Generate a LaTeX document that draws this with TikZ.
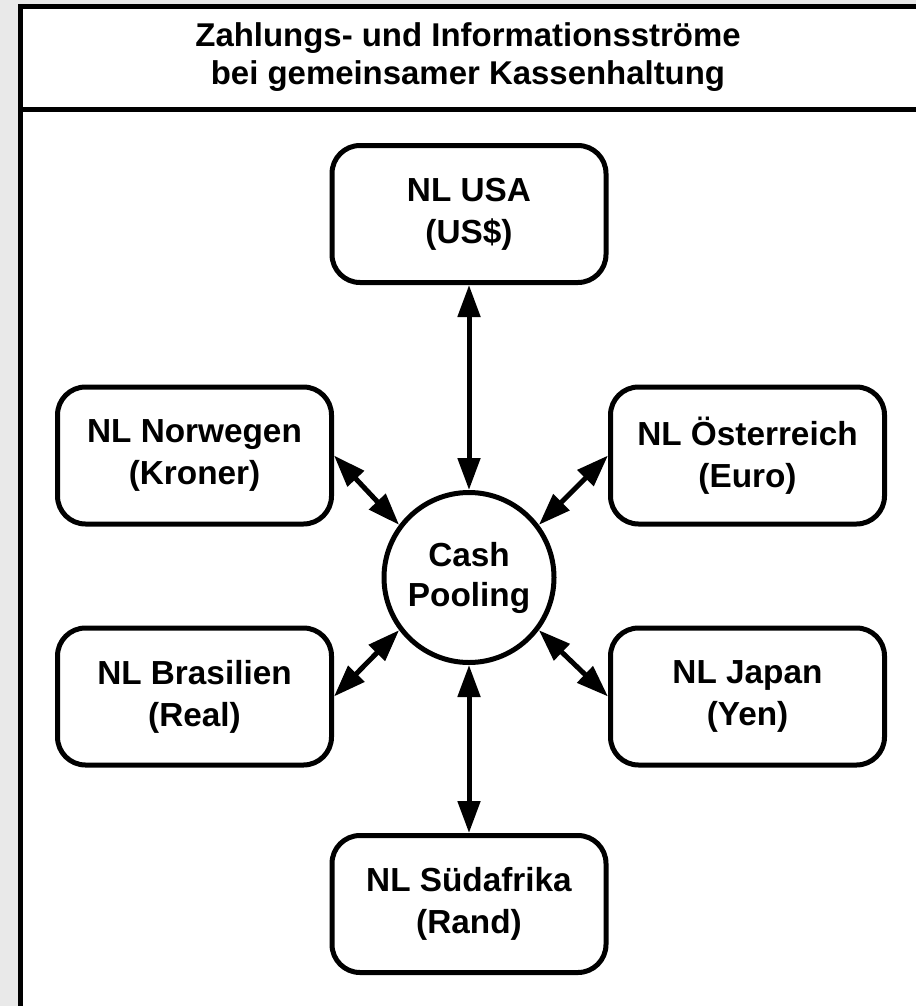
\documentclass[tikz,border=0pt]{standalone}
\usepackage{fontspec}
\setmainfont{Liberation Sans}
\usetikzlibrary{arrows.meta}
\definecolor{pagegrey}{RGB}{233,233,233}
\begin{document}
\begin{tikzpicture}[x=0.75pt,y=-0.75pt,
  line width=3.75pt,
  branch/.style={draw, rounded corners=21pt, minimum width=205.5pt,
    minimum height=102.75pt, align=center, inner sep=0pt,
    font=\bfseries\fontsize{25}{31.5}\selectfont},
  pool/.style={draw, circle, minimum size=127.5pt, align=center,
    inner sep=0pt, font=\bfseries\fontsize{25}{30}\selectfont},
  flow/.style={{Triangle[length=24pt,width=16.5pt]}-{Triangle[length=24pt,width=16.5pt]}}
]
\useasboundingbox (0,0) rectangle (916,1006);
% page background and frame
\fill[pagegrey] (0,0) rectangle (916,1006);
\fill[white] (20.7,6.5) rectangle (916,1006);
\draw[line join=miter] (20.7,1012) |- (922,6.5);
\draw (20.7,109.8) -- (922,109.8);

% heading
\node[align=center, font=\bfseries\fontsize{24.7}{28.5}\selectfont]
  (title) at (468,57.5) {Zahlungs- und Informationsströme\\bei gemeinsamer Kassenhaltung};

% centre and branches
\node[pool] (cp) at (469,577.5) {Cash\\Pooling};
\node[branch] (usa) at (469,214) {NL USA\\(US\$)};
\node[branch] (nor) at (194.5,455.5) {NL Norwegen\\(Kroner)};
\node[branch] (aut) at (747.5,455.5) {NL Österreich\\(Euro)};
\node[branch] (bra) at (194.5,696.5) {NL Brasilien\\(Real)};
\node[branch] (jpn) at (747.5,696.5) {NL Japan\\(Yen)};
\node[branch] (rsa) at (469,904) {NL Südafrika\\(Rand)};

% flows
\draw[flow] (usa.south) -- (cp.north);
\draw[flow] (cp.south) -- (rsa.north);
\draw[flow] (nor.east) -- (cp.143);
\draw[flow] (aut.west) -- (cp.37);
\draw[flow] (bra.east) -- (cp.217);
\draw[flow] (jpn.west) -- (cp.323);
\end{tikzpicture}
\end{document}
